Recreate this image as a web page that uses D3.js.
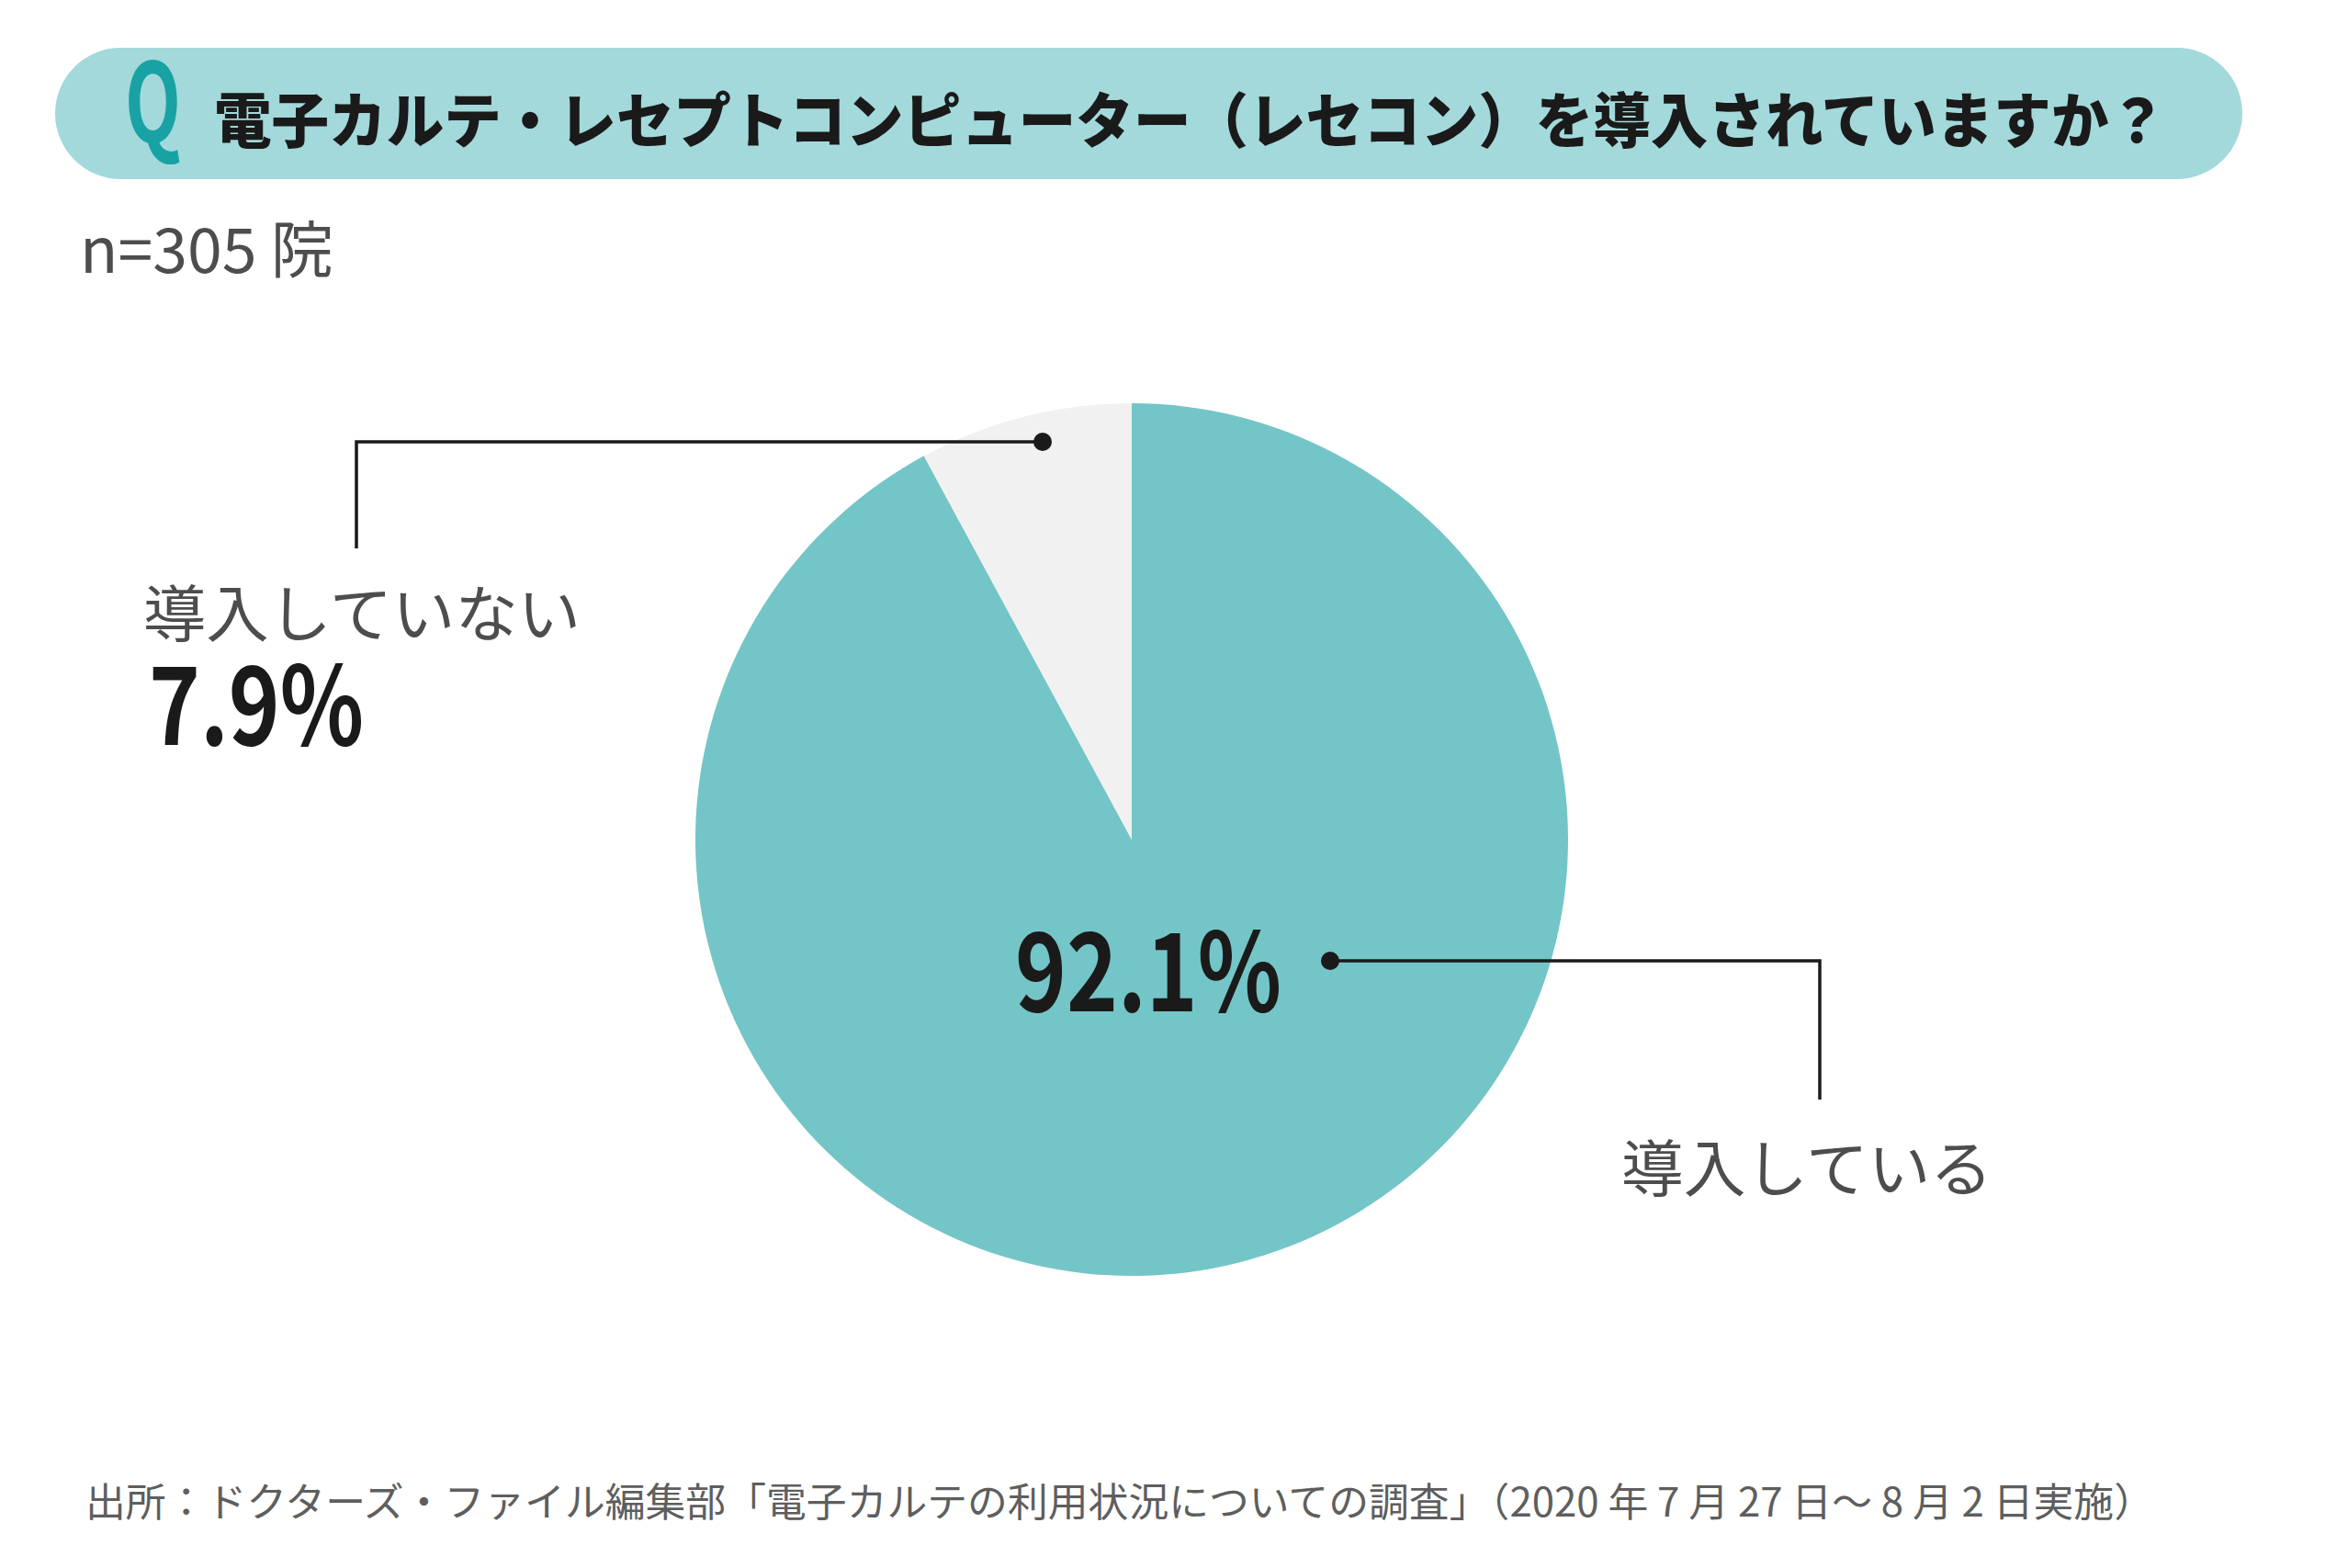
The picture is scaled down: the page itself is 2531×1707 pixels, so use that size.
<!DOCTYPE html>
<html><head><meta charset="utf-8">
<script src="https://cdn.jsdelivr.net/npm/d3@7"></script>
<style>html,body{margin:0;padding:0;background:#fff;}svg{display:block;}</style>
</head><body>
<script>
// ---- data ----
const categories = ["導入している", "導入していない"];
const values = [92.1, 7.9];
const valueLabels = ["92.1%", "7.9%"];
const titleText = "電子カルテ・レセプトコンピューター（レセコン）を導入されていますか？";
const sampleText = "n=305 院";
const sourceText = "出所：ドクターズ・ファイル編集部「電子カルテの利用状況についての調査」（2020 年 7 月 27 日～ 8 月 2 日実施）";

// ---- layout ----
const W = 2531, H = 1707;
const cx = 1232, cy = 914, R = 475;
const colors = ["#74c5c7", "#f1f1f1"];
const font = "'Noto Sans CJK JP','Noto Sans',sans-serif";

const svg = d3.select("body").append("svg").attr("width", W).attr("height", H);

// title banner
svg.append("rect").attr("x", 60).attr("y", 52).attr("width", 2381).attr("height", 143)
  .attr("rx", 71.5).attr("ry", 71.5).attr("fill", "#a3d9db");
svg.append("text").attr("x", 136).attr("y", 155).text("Q")
  .attr("font-family", font).attr("font-weight", 700).attr("font-size", 120)
  .attr("textLength", 61).attr("lengthAdjust", "spacingAndGlyphs").attr("fill", "#19a2a4");
svg.append("text").attr("x", 233).attr("y", 127).attr("dominant-baseline", "central").text(titleText)
  .attr("font-family", font).attr("font-weight", 900).attr("font-size", 65)
  .attr("textLength", 2125).attr("lengthAdjust", "spacingAndGlyphs").attr("fill", "#1a1a1a");

// sample size
svg.append("text").attr("x", 87).attr("y", 297).text(sampleText)
  .attr("font-family", font).attr("font-size", 68).attr("fill", "#4d4d4d");

// pie
const pie = d3.pie().sort(null).value(d => d)(values);
const arc = d3.arc().innerRadius(0).outerRadius(R);
const g = svg.append("g").attr("transform", `translate(${cx},${cy})`);
g.selectAll("path").data(pie).join("path").attr("d", arc).attr("fill", (d, i) => colors[i]);

// annotations (leader lines with dots)
const lineColor = "#1a1a1a";
const ann = [
  { dot: [1448, 1046], path: [[1448, 1046], [1981, 1046], [1981, 1197]] },
  { dot: [1135, 481], path: [[1135, 481], [388, 481], [388, 597]] }
];
ann.forEach(a => {
  svg.append("path").attr("d", d3.line()(a.path)).attr("fill", "none")
    .attr("stroke", lineColor).attr("stroke-width", 3.5);
  svg.append("circle").attr("cx", a.dot[0]).attr("cy", a.dot[1]).attr("r", 10).attr("fill", lineColor);
});

// category labels
svg.append("text").attr("x", 1765).attr("y", 1267).attr("dominant-baseline", "central").text(categories[0])
  .attr("font-family", font).attr("font-size", 67).attr("fill", "#4d4d4d")
  .attr("textLength", 404).attr("lengthAdjust", "spacingAndGlyphs");
svg.append("text").attr("x", 156).attr("y", 663).attr("dominant-baseline", "central").text(categories[1])
  .attr("font-family", font).attr("font-size", 67).attr("fill", "#4d4d4d")
  .attr("textLength", 476).attr("lengthAdjust", "spacingAndGlyphs");

// value labels
svg.append("text").attr("x", 1105).attr("y", 1101).text(valueLabels[0])
  .attr("font-family", font).attr("font-weight", 700).attr("font-size", 118).attr("fill", "#1a1a1a")
  .attr("textLength", 290).attr("lengthAdjust", "spacingAndGlyphs");
svg.append("text").attr("x", 162).attr("y", 811).text(valueLabels[1])
  .attr("font-family", font).attr("font-weight", 700).attr("font-size", 118).attr("fill", "#1a1a1a")
  .attr("textLength", 234).attr("lengthAdjust", "spacingAndGlyphs");

// source
svg.append("text").attr("x", 93).attr("y", 1632).attr("dominant-baseline", "central").text(sourceText)
  .attr("font-family", font).attr("font-size", 43).attr("fill", "#5e5e5e")
  .attr("textLength", 2252).attr("lengthAdjust", "spacingAndGlyphs");
</script>
</body></html>
